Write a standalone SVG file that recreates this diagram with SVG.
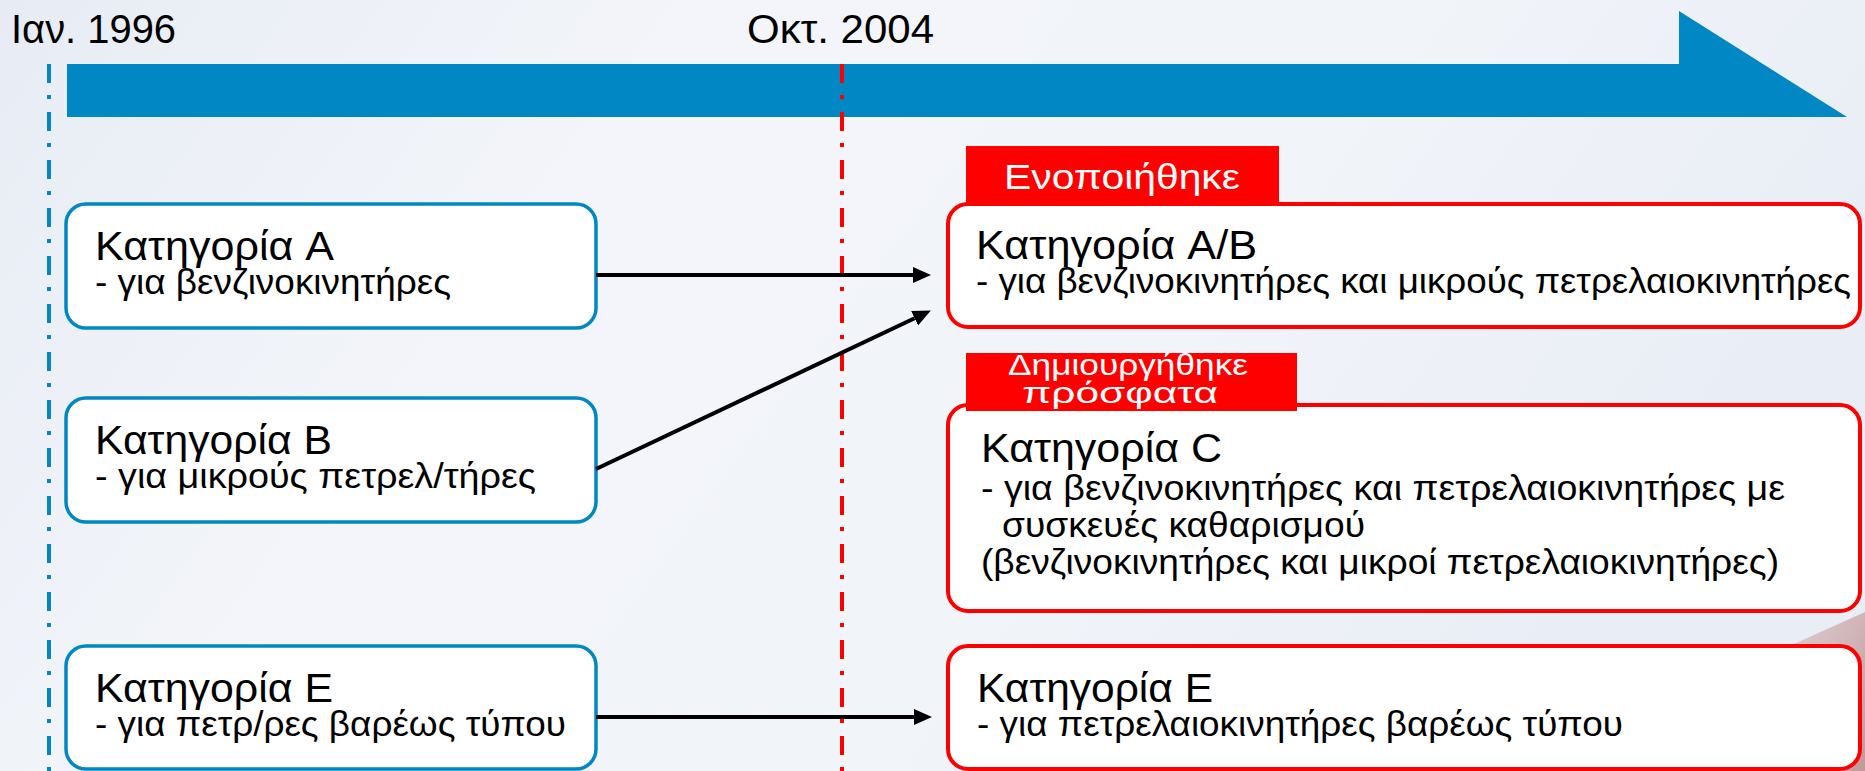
<svg xmlns="http://www.w3.org/2000/svg" width="1865" height="771" viewBox="0 0 1865 771">
  <defs>
    <linearGradient id="bg" x1="0" y1="0" x2="1" y2="0.3">
      <stop offset="0" stop-color="#e7ecf4"/>
      <stop offset="0.35" stop-color="#f3f5fa"/>
      <stop offset="0.7" stop-color="#f1f4f9"/>
      <stop offset="1" stop-color="#e9edf5"/>
    </linearGradient>
    <linearGradient id="smear" x1="0" y1="0" x2="1" y2="1">
      <stop offset="0" stop-color="#dcc9cc"/>
      <stop offset="1" stop-color="#b88386"/>
    </linearGradient>
    <marker id="ah" markerUnits="userSpaceOnUse" markerWidth="18" markerHeight="16" refX="0" refY="8" orient="auto" viewBox="0 0 18 16">
      <path d="M0,0 L18,8 L0,16 z" fill="#000"/>
    </marker>
    <style>
      .t { font-family: "Liberation Sans", Arial, sans-serif; fill: #000; }
      .date { font-size: 40px; }
      .title { font-size: 40px; }
      .sub { font-size: 35px; }
      .lbl { font-family: "Liberation Sans", Arial, sans-serif; fill: #fff; }
      .boxB { fill: #fff; stroke: #0087c4; stroke-width: 3.5; }
      .boxR { fill: #fff; stroke: #ff0000; stroke-width: 4; }
      .conn { stroke: #000; stroke-width: 4; fill: none; marker-end: url(#ah); }
      .dash { stroke-width: 4; stroke-dasharray: 19 12 4 13; fill: none; }
    </style>
  </defs>

  <rect x="0" y="0" width="1865" height="771" fill="url(#bg)"/>
  <polygon points="1785,648 1865,612 1865,771 1805,771" fill="url(#smear)" opacity="0.8"/>

  <g id="timeline">
    <polygon points="67,64 1679,64 1679,11 1847,117 67,117" fill="#0087c4"/>
    <text class="t date" x="11" y="43" textLength="165" lengthAdjust="spacingAndGlyphs">Ιαν. 1996</text>
    <text class="t date" x="747" y="43" textLength="187" lengthAdjust="spacingAndGlyphs">Οκτ. 2004</text>
  </g>

  <g id="markers">
    <line class="dash" x1="49" y1="64" x2="49" y2="771" stroke="#0087c4"/>
    <line class="dash" x1="842" y1="64" x2="842" y2="771" stroke="#ff0000"/>
  </g>

  <g id="node-A">
    <rect class="boxB" x="66" y="204" width="530" height="124" rx="20"/>
    <text class="t"><tspan class="title" x="95" y="260" textLength="239" lengthAdjust="spacingAndGlyphs">Κατηγορία A</tspan><tspan class="sub" x="95" y="294" textLength="356" lengthAdjust="spacingAndGlyphs">- για βενζινοκινητήρες</tspan></text>
  </g>

  <g id="node-B">
    <rect class="boxB" x="66" y="398" width="530" height="124" rx="20"/>
    <text class="t"><tspan class="title" x="95" y="454" textLength="237" lengthAdjust="spacingAndGlyphs">Κατηγορία B</tspan><tspan class="sub" x="95" y="488" textLength="441" lengthAdjust="spacingAndGlyphs">- για μικρούς πετρελ/τήρες</tspan></text>
  </g>

  <g id="node-E">
    <rect class="boxB" x="66" y="646" width="530" height="123" rx="20"/>
    <text class="t"><tspan class="title" x="95" y="702" textLength="238" lengthAdjust="spacingAndGlyphs">Κατηγορία E</tspan><tspan class="sub" x="95" y="736" textLength="471" lengthAdjust="spacingAndGlyphs">- για πετρ/ρες βαρέως τύπου</tspan></text>
  </g>

  <g id="node-AB">
    <rect x="966" y="146" width="313" height="58" fill="#ff0000"/>
    <text class="lbl" x="1004" y="189" font-size="35" textLength="236" lengthAdjust="spacingAndGlyphs">Ενοποιήθηκε</text>
    <rect class="boxR" x="948" y="204" width="912" height="123" rx="20"/>
    <text class="t"><tspan class="title" x="976" y="259" textLength="281" lengthAdjust="spacingAndGlyphs">Κατηγορία A/B</tspan><tspan class="sub" x="976" y="293" textLength="875" lengthAdjust="spacingAndGlyphs">- για βενζινοκινητήρες και μικρούς πετρελαιοκινητήρες</tspan></text>
  </g>

  <g id="node-C">
    <rect class="boxR" x="948" y="405" width="912" height="206" rx="20"/>
    <rect x="966" y="353" width="331" height="58" fill="#ff0000"/>
    <text class="lbl" font-size="30"><tspan x="1008" y="375" textLength="240" lengthAdjust="spacingAndGlyphs">Δημιουργήθηκε</tspan><tspan x="1022" y="403" textLength="196" lengthAdjust="spacingAndGlyphs">πρόσφατα</tspan></text>
    <text class="t"><tspan class="title" x="981" y="462" textLength="241" lengthAdjust="spacingAndGlyphs">Κατηγορία C</tspan><tspan class="sub" x="981" y="500" textLength="804" lengthAdjust="spacingAndGlyphs">- για βενζινοκινητήρες και πετρελαιοκινητήρες με</tspan><tspan class="sub" x="1002" y="537" textLength="363" lengthAdjust="spacingAndGlyphs">συσκευές καθαρισμού</tspan><tspan class="sub" x="981" y="574" textLength="798" lengthAdjust="spacingAndGlyphs">(βενζινοκινητήρες και μικροί πετρελαιοκινητήρες)</tspan></text>
  </g>

  <g id="node-E2">
    <rect class="boxR" x="948" y="646" width="912" height="123" rx="20"/>
    <text class="t"><tspan class="title" x="977" y="702" textLength="236" lengthAdjust="spacingAndGlyphs">Κατηγορία E</tspan><tspan class="sub" x="977" y="736" textLength="646" lengthAdjust="spacingAndGlyphs">- για πετρελαιοκινητήρες βαρέως τύπου</tspan></text>
  </g>

  <g id="connectors">
    <line class="conn" x1="596" y1="275" x2="913" y2="275"/>
    <line class="conn" x1="596" y1="469" x2="914.6" y2="318.3"/>
    <line class="conn" x1="596" y1="717" x2="914" y2="717"/>
  </g>
</svg>
